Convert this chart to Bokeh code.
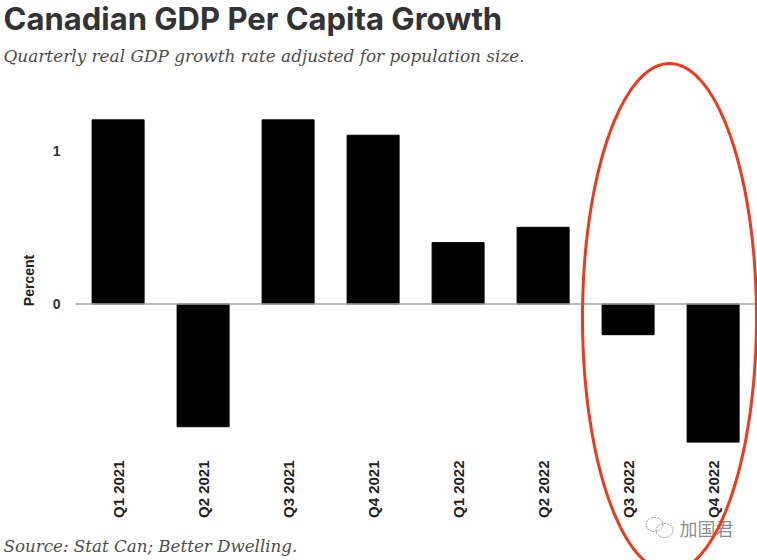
import numpy as np
from bokeh.embed import file_html
from bokeh.resources import INLINE
from bokeh.plotting import figure
from bokeh.models import ColumnDataSource, Label, Range1d, PolyAnnotation, FixedTicker

quarters = ["Q1 2021", "Q2 2021", "Q3 2021", "Q4 2021", "Q1 2022", "Q2 2022", "Q3 2022", "Q4 2022"]
growth = [1.2, -0.8, 1.2, 1.1, 0.4, 0.5, -0.2, -0.9]
y_ticks = [0, 1]

title = "Canadian GDP Per Capita Growth"
subtitle = "Quarterly real GDP growth rate adjusted for population size."
source_note = "Source: Stat Can; Better Dwelling."
y_label = "Percent"
watermark = "加国君"

W, H = 757, 560
PX_X = 85.0       # pixels per category
PX_Y = 153.45     # pixels per percent
ZERO_X, ZERO_Y = 117.6, 303.5


def sx(x):
    return x


def sy(y):
    return H - y


idx = list(range(len(quarters)))
p = figure(
    width=W, height=H,
    x_range=Range1d(-ZERO_X / PX_X, (W - ZERO_X) / PX_X),
    y_range=Range1d((ZERO_Y - H) / PX_Y, ZERO_Y / PX_Y),
    frame_width=W, frame_height=H,
    min_border=0, output_backend="svg", toolbar_location=None,
)
p.outline_line_color = None
p.grid.visible = False

src = ColumnDataSource(dict(q=idx, v=growth))
p.vbar(x="q", top="v", bottom=0, width=52 / PX_X, source=src, color="#000000")
p.line(x=[idx[0] - 0.5, idx[-1] + 0.5], y=[0, 0], line_color="#a3a3a3", line_width=1.5)

ax = p.yaxis[0]
ax.fixed_location = idx[0] - 0.5
ax.ticker = FixedTicker(ticks=y_ticks)
ax.axis_line_color = None
ax.major_tick_line_color = None
ax.minor_tick_line_color = None
ax.major_label_text_font = "Liberation Sans"
ax.major_label_text_font_style = "bold"
ax.major_label_text_font_size = "14px"
ax.major_label_text_color = "#333333"
ax.major_label_standoff = 9
ax.axis_label = None

bx = p.xaxis[0]
bx.fixed_location = -0.961
bx.ticker = FixedTicker(ticks=idx)
bx.major_label_overrides = dict(zip(idx, quarters))
bx.axis_line_color = None
bx.major_tick_line_color = None
bx.minor_tick_line_color = None
bx.major_label_orientation = np.pi / 2
bx.major_label_text_font = "Liberation Sans"
bx.major_label_text_font_style = "bold"
bx.major_label_text_font_size = "15px"
bx.major_label_text_color = "#222222"
bx.major_label_standoff = 3


def screen_label(text, x, y, font, size, color, style="normal", **kw):
    p.add_layout(Label(x=sx(x), y=sy(y), x_units="screen", y_units="screen", text=text,
                       text_font=font, text_font_size=size, text_color=color,
                       text_font_style=style, text_baseline="middle", **kw))


screen_label(title, 3, 18, "Inter", "31px", "#333333", "bold")
screen_label(subtitle, 3, 55.5, "DejaVu Serif", "16.9px", "#4d4d4d", "italic")
screen_label(source_note, 3, 545.5, "DejaVu Serif", "16.7px", "#4d4d4d", "italic")
screen_label(watermark, 679, 527, "Noto Sans CJK SC", "18px", "#8c8c8c")
screen_label(y_label, 28, 280, "Liberation Sans", "14px", "#222222", "bold",
             angle=np.pi / 2, text_align="center")

# red hand-drawn highlight ring
t = np.linspace(0, 2 * np.pi, 181)
p.add_layout(PolyAnnotation(
    xs=list(sx(669 + 87 * np.cos(t))), ys=list(sy(317 + 254 * np.sin(t))),
    xs_units="screen", ys_units="screen", fill_color=None, fill_alpha=0,
    line_color="#ee3a1c", line_alpha=1, line_width=3, level="overlay", editable=False,
))
# watermark icon: two overlapping chat bubbles
for cx, cy, rx, ry in [(654, 524, 8.5, 7), (664, 530, 8.5, 7)]:
    t2 = np.linspace(0, 2 * np.pi, 41)
    p.add_layout(PolyAnnotation(
        xs=list(sx(cx + rx * np.cos(t2))), ys=list(sy(cy + ry * np.sin(t2))),
        xs_units="screen", ys_units="screen", fill_color=None, fill_alpha=0,
        line_color="#9a9a9a", line_alpha=1, line_width=1, line_dash="2 1", level="overlay",
    ))

open("out.html", "w").write(file_html(p, INLINE))
